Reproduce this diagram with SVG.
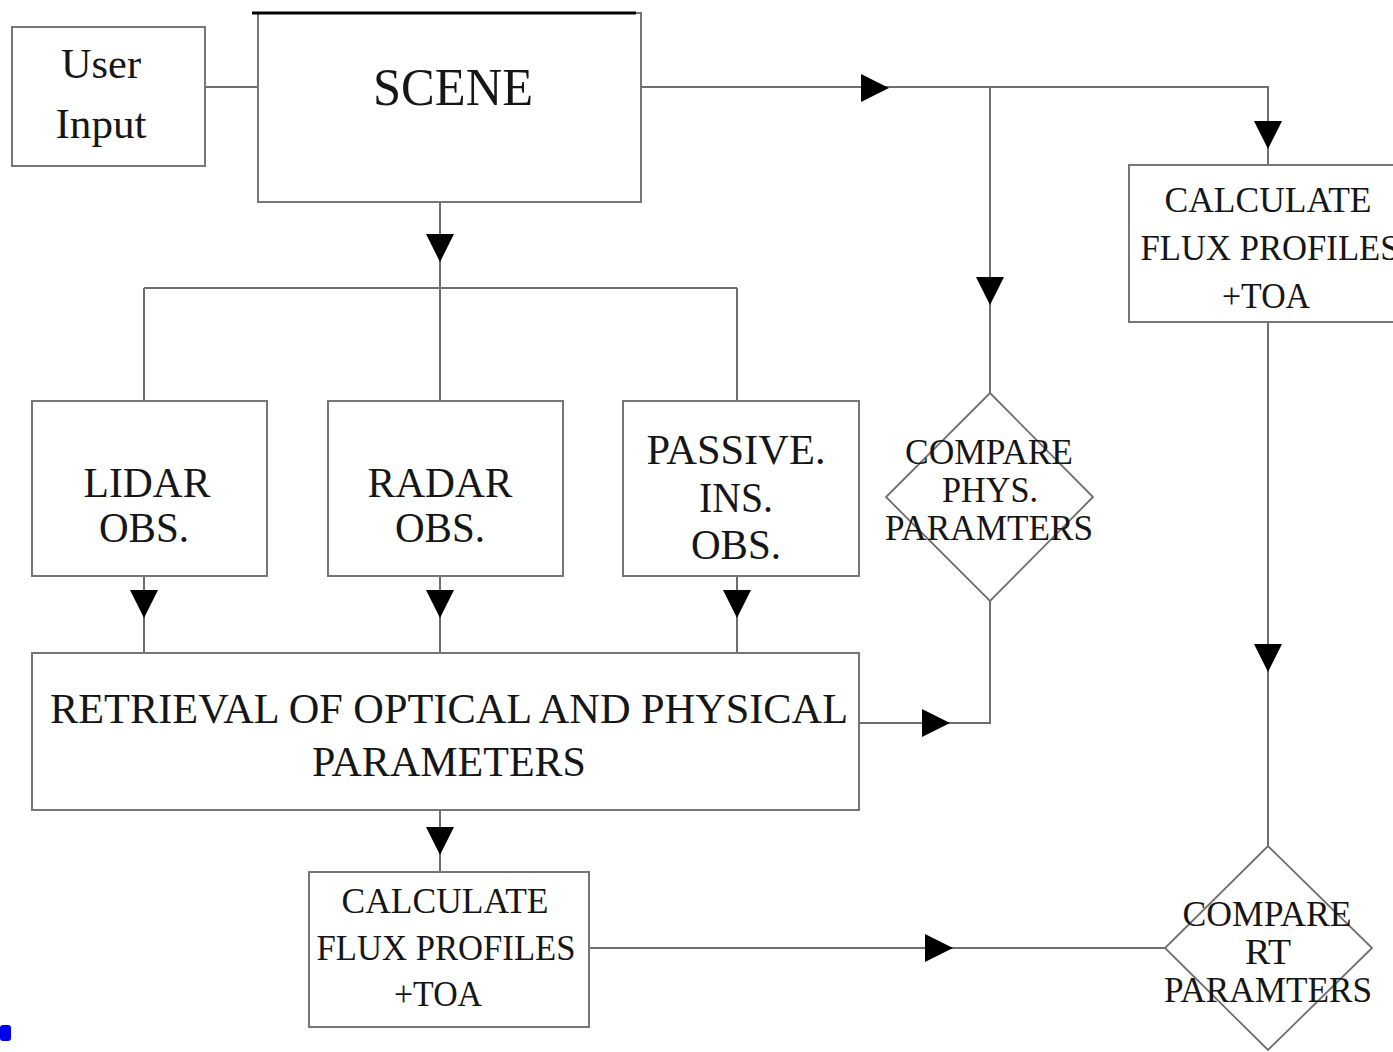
<svg xmlns="http://www.w3.org/2000/svg" xmlns:xlink="http://www.w3.org/1999/xlink" width="1393" height="1052" viewBox="0 0 1393 1052">
  <style>
    .box { fill: #ffffff; stroke: #767676; stroke-width: 2; }
    .dia { fill: none; stroke: #6e6e6e; stroke-width: 1.8; }
    .ln { fill: none; stroke: #6e6e6e; stroke-width: 2; }
    text { font-family: "Liberation Serif", "Times New Roman", serif; fill: #161616; text-anchor: middle; }
    .t42 { font-size: 42px; }
    .t44 { font-size: 42px; }
    .t52 { font-size: 52px; }
    .t35 { font-size: 35px; }
  </style>
  <defs>
    <path id="ad" d="M-14,-28 L14,-28 L0,0 Z" fill="#000"/>
    <path id="ar" d="M-28,-14 L-28,14 L0,0 Z" fill="#000"/>
  </defs>
  <rect width="1393" height="1052" fill="#ffffff"/>

  <g id="connectors">
    <path class="ln" d="M205,87 H258"/>
    <path class="ln" d="M641,87 H1268 V165"/>
    <path class="ln" d="M990,87 V393"/>
    <path class="ln" d="M440,202 V288"/>
    <path class="ln" d="M144,288 H737"/>
    <path class="ln" d="M144,288 V401 M440,288 V401 M737,288 V401"/>
    <path class="ln" d="M144,576 V653 M440,576 V653 M737,576 V653"/>
    <path class="ln" d="M859,723 H990 V601"/>
    <path class="ln" d="M440,810 V872"/>
    <path class="ln" d="M589,948 H1165"/>
    <path class="ln" d="M1268,322 V846"/>
    <use xlink:href="#ar" x="889" y="88"/>
    <use xlink:href="#ad" x="990" y="305"/>
    <use xlink:href="#ad" x="1268" y="149"/>
    <use xlink:href="#ad" x="1268" y="672"/>
    <use xlink:href="#ad" x="440" y="262"/>
    <use xlink:href="#ad" x="144" y="618"/>
    <use xlink:href="#ad" x="440" y="618"/>
    <use xlink:href="#ad" x="737" y="618"/>
    <use xlink:href="#ar" x="950" y="723"/>
    <use xlink:href="#ad" x="440" y="855"/>
    <use xlink:href="#ar" x="953" y="948"/>
  </g>

  <g id="user-input">
    <rect class="box" x="12" y="27" width="193" height="139"/>
    <text class="t42" x="101" y="78" textLength="80" lengthAdjust="spacingAndGlyphs">User</text>
    <text class="t42" x="101" y="138" textLength="91" lengthAdjust="spacingAndGlyphs">Input</text>
  </g>

  <g id="scene">
    <rect class="box" x="258" y="13" width="383" height="189"/>
    <line x1="252" y1="13" x2="636" y2="13" stroke="#000" stroke-width="3"/>
    <text class="t52" x="453" y="105" textLength="160" lengthAdjust="spacingAndGlyphs">SCENE</text>
  </g>

  <g id="calc-upper">
    <rect class="box" x="1129" y="165" width="271" height="157"/>
    <text class="t35" x="1268" y="212" textLength="207" lengthAdjust="spacingAndGlyphs">CALCULATE</text>
    <text class="t35" x="1270" y="260" textLength="259" lengthAdjust="spacingAndGlyphs">FLUX PROFILES</text>
    <text class="t35" x="1266" y="308" textLength="88" lengthAdjust="spacingAndGlyphs">+TOA</text>
  </g>

  <g id="lidar">
    <rect class="box" x="32" y="401" width="235" height="175"/>
    <text class="t44" x="147" y="497" textLength="127" lengthAdjust="spacingAndGlyphs">LIDAR</text>
    <text class="t44" x="144" y="542" textLength="90" lengthAdjust="spacingAndGlyphs">OBS.</text>
  </g>

  <g id="radar">
    <rect class="box" x="328" y="401" width="235" height="175"/>
    <text class="t44" x="440" y="497" textLength="145" lengthAdjust="spacingAndGlyphs">RADAR</text>
    <text class="t44" x="440" y="542" textLength="90" lengthAdjust="spacingAndGlyphs">OBS.</text>
  </g>

  <g id="passive">
    <rect class="box" x="623" y="401" width="236" height="175"/>
    <text class="t44" x="736" y="464" textLength="179" lengthAdjust="spacingAndGlyphs">PASSIVE.</text>
    <text class="t44" x="736" y="512" textLength="74" lengthAdjust="spacingAndGlyphs">INS.</text>
    <text class="t44" x="736" y="559" textLength="90" lengthAdjust="spacingAndGlyphs">OBS.</text>
  </g>

  <g id="compare-phys">
    <polygon class="dia" points="990,393 1093,497 990,601 886,497"/>
    <text class="t35" x="989" y="464" textLength="168" lengthAdjust="spacingAndGlyphs">COMPARE</text>
    <text class="t35" x="990" y="502" textLength="96" lengthAdjust="spacingAndGlyphs">PHYS.</text>
    <text class="t35" x="989" y="540" textLength="208" lengthAdjust="spacingAndGlyphs">PARAMTERS</text>
  </g>

  <g id="retrieval">
    <rect class="box" x="32" y="653" width="827" height="157"/>
    <text class="t42" x="449" y="723" textLength="798" lengthAdjust="spacingAndGlyphs">RETRIEVAL OF OPTICAL AND PHYSICAL</text>
    <text class="t42" x="449" y="776" textLength="274" lengthAdjust="spacingAndGlyphs">PARAMETERS</text>
  </g>

  <g id="calc-lower">
    <rect class="box" x="309" y="872" width="280" height="155"/>
    <text class="t35" x="445" y="913" textLength="207" lengthAdjust="spacingAndGlyphs">CALCULATE</text>
    <text class="t35" x="446" y="960" textLength="259" lengthAdjust="spacingAndGlyphs">FLUX PROFILES</text>
    <text class="t35" x="438" y="1006" textLength="88" lengthAdjust="spacingAndGlyphs">+TOA</text>
  </g>

  <g id="compare-rt">
    <polygon class="dia" points="1268,846 1372,948 1268,1050 1165,948"/>
    <text class="t35" x="1267" y="926" textLength="169" lengthAdjust="spacingAndGlyphs">COMPARE</text>
    <text class="t35" x="1268" y="964" textLength="46" lengthAdjust="spacingAndGlyphs">RT</text>
    <text class="t35" x="1268" y="1002" textLength="208" lengthAdjust="spacingAndGlyphs">PARAMTERS</text>
  </g>

  <rect x="0" y="1025" width="11" height="16" rx="3" fill="#0000ee"/>
</svg>
